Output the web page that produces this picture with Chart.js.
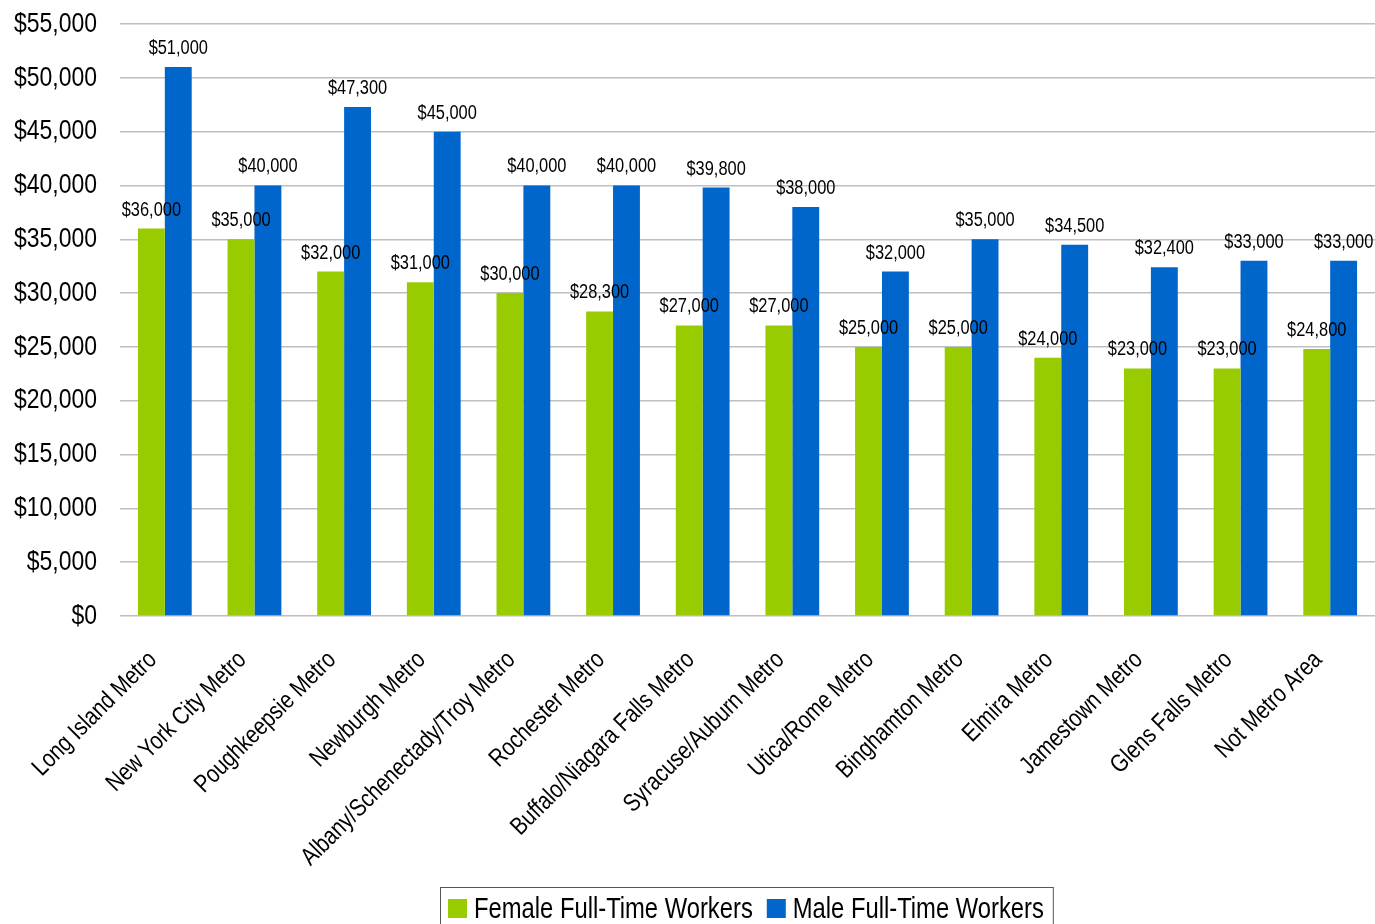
<!DOCTYPE html>
<html>
<head>
  <meta charset="UTF-8">
  <title>Median Earnings by Metro Area</title>
  <script src="https://cdn.jsdelivr.net/npm/chart.js"></script>
  <style>
    html, body { margin: 0; padding: 0; background: #fff; }
    #wrap { width: 1375px; height: 924px; }
  </style>
</head>
<body>
  <div id="wrap"><canvas id="earnings"></canvas></div>

  <script>
    const areas = [
      'Long Island Metro', 'New York City Metro', 'Poughkeepsie Metro', 'Newburgh Metro',
      'Albany/Schenectady/Troy Metro', 'Rochester Metro', 'Buffalo/Niagara Falls Metro',
      'Syracuse/Auburn Metro', 'Utica/Rome Metro', 'Binghamton Metro', 'Elmira Metro',
      'Jamestown Metro', 'Glens Falls Metro', 'Not Metro Area'
    ];
    const female = [36000, 35000, 32000, 31000, 30000, 28300, 27000, 27000, 25000, 25000, 24000, 23000, 23000, 24800];
    const male = [51000, 40000, 47300, 45000, 40000, 40000, 39800, 38000, 32000, 35000, 34500, 32400, 33000, 33000];
    const seriesNames = ['Female Full-Time Workers', 'Male Full-Time Workers'];
    const seriesColors = ['#99CC00', '#0066CC'];

    const FONT = "'Liberation Sans', Arial, sans-serif";
    const SQUEEZE = 0.82; // condensed look, like Arial Narrow
    const money = v => '$' + v.toLocaleString('en-US');

    // draw text squeezed horizontally around its anchor point
    function narrowText(ctx, text, x, y, size, align, baseline, angle) {
      ctx.save();
      ctx.translate(x, y);
      if (angle) ctx.rotate(angle);
      ctx.scale(SQUEEZE, 1);
      ctx.font = size + 'px ' + FONT;
      ctx.fillStyle = '#000';
      ctx.textAlign = align;
      ctx.textBaseline = baseline;
      ctx.fillText(text, 0, 0);
      ctx.restore();
    }

    const narrowLabels = {
      id: 'narrowLabels',
      afterDraw(chart) {
        const ctx = chart.ctx;
        const xs = chart.scales.x, ys = chart.scales.y;

        // y axis ticks
        ys.ticks.forEach((t, i) => {
          narrowText(ctx, money(t.value), chart.chartArea.left - 23, ys.getPixelForTick(i), 28, 'right', 'middle');
        });

        // category labels at 45 degrees
        areas.forEach((name, i) => {
          narrowText(ctx, name, xs.getPixelForTick(i) - 12, chart.chartArea.bottom + 40, 25, 'right', 'middle', -Math.PI / 4);
        });

        // values above bars
        chart.data.datasets.forEach((ds, d) => {
          chart.getDatasetMeta(d).data.forEach((bar, j) => {
            narrowText(ctx, money(ds.data[j]), bar.x, bar.y - 13, 20, 'center', 'alphabetic');
          });
        });

        // legend with frame
        ctx.save();
        ctx.font = '29px ' + FONT;
        let x = 448;
        const top = 899, box = 19;
        const parts = seriesNames.map(n => ctx.measureText(n).width * SQUEEZE);
        const right = 448 + parts.reduce((a, w) => a + box + 7 + w + 14, 0) - 14 + 9;
        ctx.strokeStyle = '#555';
        ctx.lineWidth = 1;
        ctx.strokeRect(440.5, 887.5, right - 440, 60);
        seriesNames.forEach((n, i) => {
          ctx.fillStyle = seriesColors[i];
          ctx.fillRect(x, top, box, box);
          narrowText(ctx, n, x + box + 7, top + box / 2 + 1, 29, 'left', 'middle');
          x += box + 7 + parts[i] + 14;
        });
        ctx.restore();
      }
    };

    new Chart(document.getElementById('earnings'), {
      type: 'bar',
      data: {
        labels: areas,
        datasets: [
          { label: seriesNames[0], data: female, backgroundColor: seriesColors[0] },
          { label: seriesNames[1], data: male, backgroundColor: seriesColors[1] }
        ]
      },
      options: {
        responsive: true,
        maintainAspectRatio: false,
        animation: false,
        categoryPercentage: 0.6,
        barPercentage: 1,
        layout: { padding: { top: 24, left: 0, right: 0, bottom: 0 } },
        plugins: {
          legend: { display: false },
          tooltip: { enabled: false }
        },
        scales: {
          x: {
            grid: { display: false },
            border: { display: false },
            ticks: {
              font: { size: 10 },
              color: 'transparent',
              minRotation: 45,
              maxRotation: 45,
              autoSkip: false
            },
            afterFit: s => { s.height = 308; }
          },
          y: {
            min: 0,
            max: 55000,
            grid: { color: '#BFBFBF', lineWidth: 1.5, drawTicks: false },
            border: { display: false },
            ticks: {
              stepSize: 5000,
              font: { family: FONT, size: 28 },
              color: 'transparent',
              callback: v => money(v)
            },
            afterFit: s => { s.width = 120; }
          }
        }
      },
      plugins: [narrowLabels]
    });
  </script>
</body>
</html>
